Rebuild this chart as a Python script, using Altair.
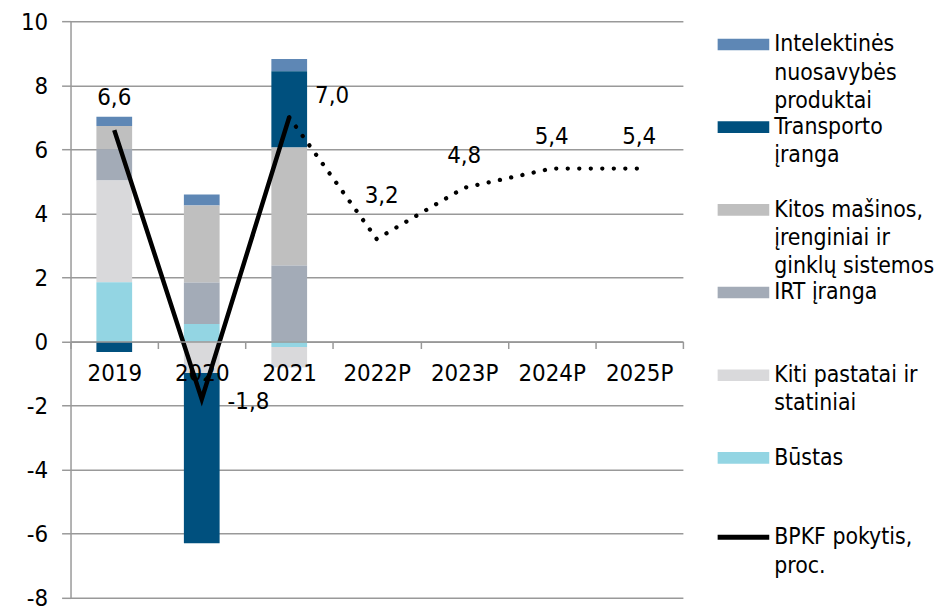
import sys
import altair as alt
import pandas as pd

FONT = "DejaVu Sans Condensed"

# ---- data ----
years = ["2019", "2020", "2021", "2022P", "2023P", "2024P", "2025P"]
bar_years = ["2019", "2020", "2021"]

categories = [
    "Intelektinės|nuosavybės|produktai",
    "Transporto|įranga",
    "Kitos mašinos,|įrenginiai ir|ginklų sistemos",
    "IRT įranga",
    "Kiti pastatai ir|statiniai",
    "Būstas",
]
line_name = "BPKF pokytis,|proc."
colors = ["#5E87B5", "#00507E", "#BFBFBF", "#A3ABB7", "#D9D9DB", "#93D5E3"]
line_color = "#000000"

intelektines = [0.29, 0.34, 0.38]
transporto = [-0.33, -5.32, 2.38]
kitos_masinos = [0.73, 2.41, 3.69]
irt = [0.97, 1.29, 2.37]
kiti_pastatai = [3.18, -0.98, -0.64]
bustas = [1.85, 0.55, -0.17]

growth = [6.6, -1.8, 7.0, 3.2, 4.8, 5.4, 5.4]

# ---- tables ----
series = [intelektines, transporto, kitos_masinos, irt, kiti_pastatai, bustas]
rows = []
for i, (cat, vals) in enumerate(zip(categories, series)):
    for y, v in zip(bar_years, vals):
        rows.append({"year": y, "category": cat, "value": v, "idx": len(categories) - 1 - i})
bar_df = pd.DataFrame(rows)

line_df = pd.DataFrame({"year": years, "value": growth, "category": line_name,
                        "label": [f"{v:.1f}".replace(".", ",") for v in growth]})
solid_df = line_df.iloc[:3]
dotted_df = line_df.iloc[2:]

# ---- scales / axes ----
xscale = alt.Scale(domain=years, paddingInner=0, paddingOuter=0)
yscale = alt.Scale(domain=[-8, 10], nice=False, zero=False)
fscale = alt.Scale(domain=categories, range=colors)
sscale = alt.Scale(domain=[line_name], range=[line_color])

LABEL_DY = -11  # applied to all guide labels through the guide-label style

xaxis = alt.Axis(title=None, orient="bottom", offset=-258.2, tickBand="extent", tickSize=7,
                 tickColor="#999999", tickWidth=1.5, domainColor="#999999", domainWidth=1.5,
                 labelFont=FONT, labelFontSize=24, labelColor="black",
                 labelPadding=13 - LABEL_DY, labelBaseline="top",
                 labelAngle=0, grid=False, zindex=1)
yaxis = alt.Axis(title=None, values=list(range(-8, 11, 2)), grid=True, gridColor="#999999",
                 gridWidth=1.5, domainColor="#999999", domainWidth=1.5, tickColor="#999999",
                 tickWidth=1.5, tickSize=9, labelFont=FONT, labelFontSize=24, labelColor="black",
                 labelPadding=14, labelBaseline="top", labelExpr="toString(datum.value)")

# symbols are drawn wider than their nominal size so entry rows stay compact
common_legend = dict(
    title=None, orient="none", labelFont=FONT, labelFontSize=23, labelColor="black",
    labelLimit=400, labelOffset=19.5, labelBaseline="top", gridAlign="all", rowPadding=2.3,
    padding=0, symbolSize=169, labelExpr="split(datum.label, '|')",
)
fill_legend = alt.Legend(legendX=666.5, legendY=12, symbolType="M-4,-0.9H4V0.9H-4Z",
                         symbolStrokeWidth=0, **common_legend)
stroke_legend = alt.Legend(legendX=666.5, legendY=508.5, symbolType="M-4,0H4",
                           symbolStrokeWidth=5, symbolFillColor="transparent",
                           **common_legend)

x_enc = alt.X("year:N", scale=xscale, axis=xaxis, sort=years)
y_enc = alt.Y("value:Q", scale=yscale, axis=yaxis)

bars = alt.Chart(bar_df).mark_bar(size=36).encode(
    x=x_enc,
    y=alt.Y("value:Q", scale=yscale, axis=yaxis, stack="zero"),
    fill=alt.Fill("category:N", scale=fscale, legend=fill_legend),
    order=alt.Order("idx:Q", sort="ascending"),
)

solid = alt.Chart(solid_df).mark_line(strokeWidth=4.5).encode(
    x=x_enc, y=y_enc,
    stroke=alt.Stroke("category:N", scale=sscale, legend=stroke_legend),
)

dotted = alt.Chart(dotted_df).mark_line(
    strokeWidth=4.3, strokeDash=[0.1, 11.5], strokeCap="round", color="black",
).encode(x=x_enc, y=y_enc)

def labels(sel, **kw):
    return alt.Chart(line_df[line_df["year"].isin(sel)]).mark_text(
        font=FONT, fontSize=24, color="black", baseline="middle", **kw
    ).encode(x=x_enc, y=y_enc, text="label:N")

t_above = labels(["2019", "2023P", "2024P", "2025P"], dy=-32)
t_2022 = labels(["2022P"], dy=-43, dx=5)
t_2021 = labels(["2021"], align="left", dx=26, dy=-21)
t_2020 = labels(["2020"], align="left", dx=26, dy=3)

chart = alt.layer(bars, solid, dotted, t_above, t_2022, t_2021, t_2020).properties(
    width=617, height=581,
    padding={"left": 63, "top": 11, "right": 254, "bottom": 9},
    autosize=alt.AutoSizeParams(type="none"),
    background="white",
).configure(
    style={"guide-label": {"lineHeight": 28.5, "dy": LABEL_DY}}
).configure_view(stroke=None)

try:
    chart.save("out.html", embed_options={"renderer": "svg", "actions": False})
except Exception as e:
    msg = str(e)
    print(msg[:1500], file=sys.stderr)
    sys.exit(1)
